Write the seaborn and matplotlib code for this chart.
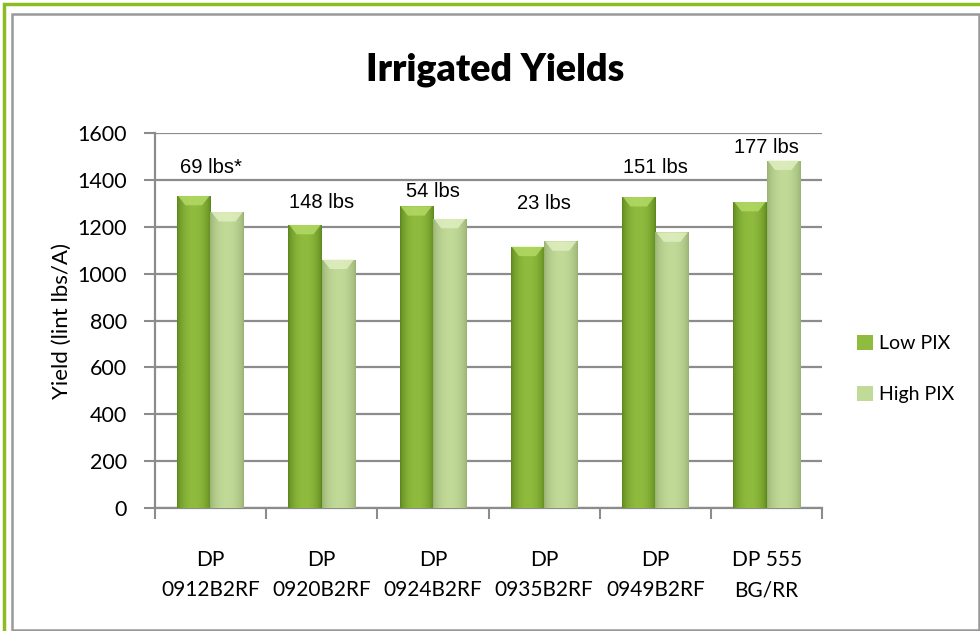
import numpy as np
import pandas as pd
import matplotlib
matplotlib.use("Agg")
import matplotlib.pyplot as plt
import matplotlib.patches as mpatches
from matplotlib.colors import LinearSegmentedColormap
import seaborn as sns

# data
varieties = ["DP\n0912B2RF", "DP\n0920B2RF", "DP\n0924B2RF",
             "DP\n0935B2RF", "DP\n0949B2RF", "DP 555\nBG/RR"]
low_pix = [1332, 1208, 1288, 1115, 1327, 1306]
high_pix = [1263, 1060, 1234, 1138, 1176, 1483]
diff_labels = ["69 lbs*", "148 lbs", "54 lbs", "23 lbs", "151 lbs", "177 lbs"]
diff_label_y = [1455, 1305, 1350, 1300, 1455, 1540]
treatments = ["Low PIX", "High PIX"]

df = pd.DataFrame({
    "variety": varieties * 2,
    "treatment": [treatments[0]] * len(varieties) + [treatments[1]] * len(varieties),
    "yield": low_pix + high_pix,
})

# colours: (edge, centre, top bevel)
shades = {
    "Low PIX": ("#5a841c", "#8fbc3e", "#b3d964"),
    "High PIX": ("#98b070", "#c2da98", "#dfeec0"),
}

sns.set_theme(style="white")
plt.rcParams["font.family"] = ["Lato", "DejaVu Sans"]
plt.rcParams["text.color"] = "black"
plt.rcParams["axes.labelcolor"] = "black"
plt.rcParams["xtick.labelcolor"] = "black"
plt.rcParams["ytick.labelcolor"] = "black"

fig = plt.figure(figsize=(9.8, 6.31), dpi=100)
ax = fig.add_axes([0.158, 0.195, 0.681, 0.594])

sns.barplot(data=df, x="variety", y="yield", hue="treatment", order=varieties,
            hue_order=treatments, width=0.6, ax=ax, legend=False,
            palette={t: shades[t][1] for t in treatments}, saturation=1,
            edgecolor="none", zorder=3)

# gradient fill on every bar
grad = np.linspace(0, 1, 64)
grad = np.sin(grad * np.pi) ** 0.6
grad = grad.reshape(1, -1)
bars = [p for p in ax.patches if isinstance(p, mpatches.Rectangle) and p.get_height() > 0]
for i, bar in enumerate(bars):
    t = treatments[0] if i < len(varieties) else treatments[1]
    edge, mid, top = shades[t]
    cmap = LinearSegmentedColormap.from_list(t, [edge, mid])
    x0, w, h = bar.get_x(), bar.get_width(), bar.get_height()
    im = ax.imshow(grad, cmap=cmap, aspect="auto", extent=(x0, x0 + w, 0, h),
                   zorder=4, vmin=0, vmax=1)
    im.set_clip_path(bar)
    bev = 40
    poly = mpatches.Polygon([(x0 + 0.03 * w, h), (x0 + 0.97 * w, h),
                             (x0 + 0.75 * w, h - bev), (x0 + 0.25 * w, h - bev)],
                            closed=True, facecolor=top, edgecolor="none",
                            alpha=0.85, zorder=5)
    ax.add_patch(poly)
ax.set_xlim(-0.5, len(varieties) - 0.5)
ax.set_ylim(0, 1600)

# difference labels above each group
for i, (lab, ly) in enumerate(zip(diff_labels, diff_label_y)):
    ax.text(i, ly, lab, ha="center", va="center", fontsize=14.5,
            family="Liberation Sans", color="black", zorder=6)

# axes styling
grid_col = "#8c8c8c"
ax.yaxis.grid(True, color=grid_col, linewidth=1.6, zorder=0)
ax.set_axisbelow(True)
for s in ["top", "right"]:
    ax.spines[s].set_visible(False)
for s in ["left", "bottom"]:
    ax.spines[s].set_color(grid_col)
    ax.spines[s].set_linewidth(1.6)

ax.set_yticks(np.arange(0, 1601, 200))
ax.tick_params(axis="y", which="major", length=8, width=1.5, color=grid_col,
               labelsize=15.5, pad=12, left=True, direction="out")
ax.set_xticks(np.arange(-0.5, len(varieties), 1))
ax.set_xticklabels([])
ax.tick_params(axis="x", which="major", length=8, width=1.5, color=grid_col,
               bottom=True, direction="out")
ax.set_xticks(np.arange(len(varieties)), minor=True)
ax.set_xticklabels(varieties, minor=True, fontsize=15, linespacing=1.65)
ax.tick_params(axis="x", which="minor", length=0, pad=30)

ax.set_xlabel("")
ax.set_ylabel("Yield (lint lbs/A)", fontsize=16)
ax.yaxis.set_label_coords(-0.124, 0.5)

fig.text(0.505, 0.889, "Irrigated Yields", ha="center", va="center",
         fontsize=27, fontweight="heavy", color="black")

handles = [mpatches.Patch(facecolor=shades[t][1], edgecolor="none", label=t)
           for t in treatments]
fig.legend(handles=handles, loc="center left", bbox_to_anchor=(0.857, 0.415),
           frameon=False, fontsize=14, handlelength=0.8, handleheight=0.8,
           handletextpad=0.3, labelspacing=1.75)

# chart frame: green outer, grey inner
fig.add_artist(mpatches.Rectangle((4 / 980, -0.02), 1.1, 1 - 4 / 631 + 0.02,
                                  transform=fig.transFigure, fill=False,
                                  edgecolor="#8cbc24", linewidth=2.5))
fig.add_artist(mpatches.Rectangle((12 / 980, 1.5 / 631), (979 - 12) / 980,
                                  (631 - 14 - 1.5) / 631,
                                  transform=fig.transFigure, fill=False,
                                  edgecolor="#999999", linewidth=1.8))

fig.savefig("out.png", dpi=100)
